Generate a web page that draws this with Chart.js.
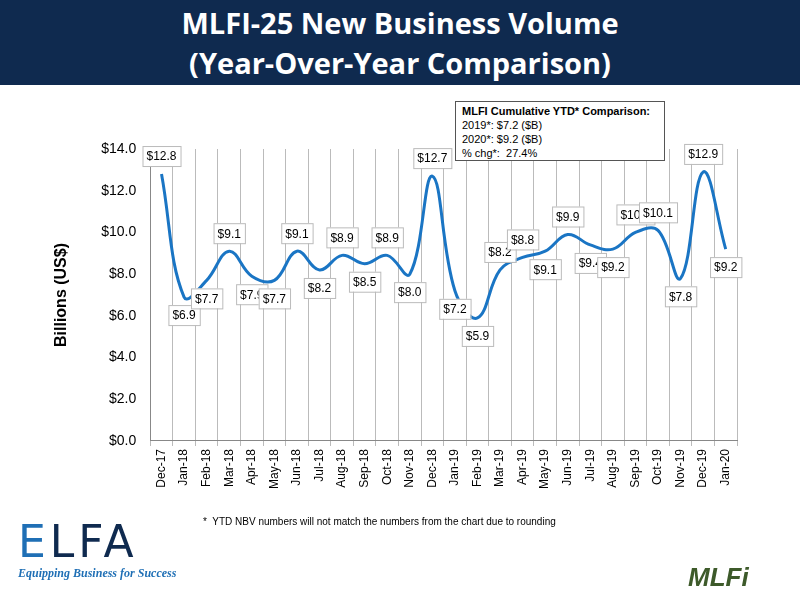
<!DOCTYPE html>
<html><head><meta charset="utf-8">
<script src="https://cdn.jsdelivr.net/npm/chart.js@4"></script>
<style>
body{margin:0;width:800px;height:600px;background:#fff;font-family:"Liberation Sans",Arial,sans-serif;position:relative;overflow:hidden}
#banner{position:absolute;left:0;top:0;width:800px;height:85px;background:#0f2a4f;color:#fff;text-align:center;font:bold 29px "Open Sans",sans-serif;line-height:40px;padding-top:3px;box-sizing:border-box}
#chart{position:absolute;left:0;top:0}
#box{position:absolute;left:455px;top:101px;width:210px;height:60px;border:1px solid #555;background:#fff;font-size:11px;line-height:14px;padding:2px 6px;box-sizing:border-box}
#note{position:absolute;left:203px;top:516px;font-size:10px}
#elfa{position:absolute;left:18px;top:518px;width:220px}
#mlfi{position:absolute;left:688px;top:562px;font:bold italic 26px "Liberation Sans";color:#3d5a2a}
</style></head><body>
<div id="banner">MLFI-25 New Business Volume<br>(Year-Over-Year Comparison)</div>
<canvas id="chart" width="800" height="600"></canvas>
<div id="box"><b>MLFI Cumulative YTD* Comparison:</b><br>2019*: $7.2 ($B)<br>2020*: $9.2 ($B)<br>% chg*:&nbsp; 27.4%</div>
<div id="note">*&nbsp; YTD NBV numbers will not match the numbers from the chart due to rounding</div>
<div id="elfa"><div style="font:44px 'DejaVu Sans';color:#0f2a4f;letter-spacing:4px;line-height:48px"><span style="color:#1f6fb5">E</span>LFA</div><div style="font:italic bold 12px 'Liberation Serif';color:#1f6fb5;white-space:nowrap">Equipping Business for Success</div></div>
<div id="mlfi">MLFi</div>
<script>
const months = ["Dec-17","Jan-18","Feb-18","Mar-18","Apr-18","May-18","Jun-18","Jul-18","Aug-18","Sep-18","Oct-18","Nov-18","Dec-18","Jan-19","Feb-19","Mar-19","Apr-19","May-19","Jun-19","Jul-19","Aug-19","Sep-19","Oct-19","Nov-19","Dec-19","Jan-20"];
const volume = [12.8,6.9,7.7,9.1,7.9,7.7,9.1,8.2,8.9,8.5,8.9,8.0,12.7,7.2,5.9,8.2,8.8,9.1,9.9,9.4,9.2,10.0,10.1,7.8,12.9,9.2];

const labelPlugin = {
  id: "boxes",
  afterDatasetsDraw(chart) {
    const c = chart.ctx;
    const pts = chart.getDatasetMeta(0).data;
    c.save();
    c.font = "12px 'Liberation Sans'";
    c.textAlign = "center"; c.textBaseline = "middle";
    pts.forEach((p, i) => {
      const v = volume[i];
      const prev = volume[i-1] ?? v, next = volume[i+1] ?? v;
      const below = v < (prev + next) / 2;
      const txt = "$" + v.toFixed(1);
      const w = c.measureText(txt).width + 8, h = 20;
      const y = below ? p.y + 18 : p.y - 18;
      c.fillStyle = "#fff"; c.strokeStyle = "#bbb"; c.lineWidth = 1;
      c.fillRect(p.x - w/2, y - h/2, w, h);
      c.strokeRect(p.x - w/2 + .5, y - h/2 + .5, w, h);
      c.fillStyle = "#000";
      c.fillText(txt, p.x, y + 1);
    });
    c.restore();
  }
};

new Chart(document.getElementById("chart"), {
  type: "line",
  data: { labels: months, datasets: [{ data: volume, borderColor: "#1a75c4", borderWidth: 3, tension: 0.4, pointRadius: 0 }] },
  options: {
    responsive: false, animation: false,
    layout: { padding: { left: 48, right: 63, top: 149, bottom: 108 } },
    plugins: { legend: { display: false }, tooltip: { enabled: false } },
    scales: {
      x: {
        offset: true,
        grid: { offset: true, color: "#bbb", drawTicks: true, tickLength: 5 },
        border: { color: "#888" },
        ticks: { color: "#000", font: { size: 12, family: "Liberation Sans" }, maxRotation: 90, minRotation: 90, autoSkip: false }
      },
      y: {
        min: 0, max: 14,
        grid: { display: false },
        border: { color: "#888" },
        ticks: { stepSize: 2, padding: 6, color: "#000", font: { size: 14, family: "Liberation Sans" }, callback: v => "$" + v.toFixed(1) },
        title: { display: true, text: "Billions (US$)", padding: { top: 4, bottom: 24 }, color: "#000", font: { size: 16, weight: "bold", family: "Liberation Sans" } }
      }
    }
  },
  plugins: [labelPlugin]
});
</script>
</body></html>
